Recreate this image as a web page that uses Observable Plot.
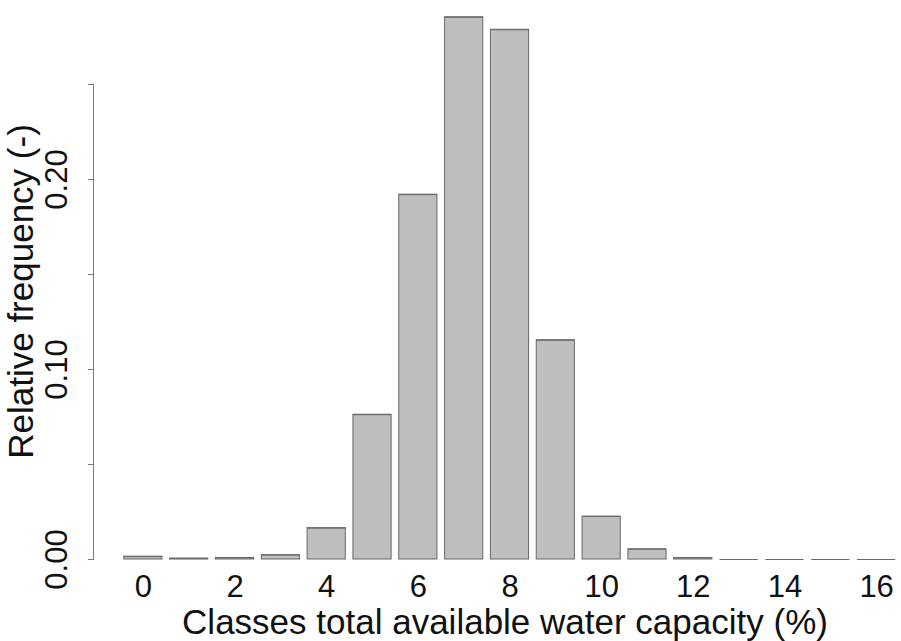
<!DOCTYPE html>
<html>
<head>
<meta charset="utf-8">
<script src="https://cdn.jsdelivr.net/npm/d3@7"></script>
<script src="https://cdn.jsdelivr.net/npm/@observablehq/plot@0.6"></script>
<style>
  html, body { margin: 0; padding: 0; background: #fff; }
  svg { display: block; }
</style>
</head>
<body>
<script>
// Classes of total available water capacity (%)
const classes = [0, 1, 2, 3, 4, 5, 6, 7, 8, 9, 10, 11, 12, 13, 14, 15, 16];
// Relative frequency (-) per class
const frequency = [0.0015, 0.0005, 0.0008, 0.0023, 0.0165, 0.0762, 0.1920, 0.2854, 0.2788, 0.1154, 0.0226, 0.0054, 0.0008, 0, 0, 0, 0];
// Axis ticks and labels
const xTickLabels = [0, 2, 4, 6, 8, 10, 12, 14, 16];
const yTicks = [0, 0.05, 0.10, 0.15, 0.20, 0.25];
const yTickLabels = [0, 0.10, 0.20];
const xTitle = "Classes total available water capacity (%)";
const yTitle = "Relative frequency (-)";

const data = classes.map((c, i) => ({cls: c, freq: frequency[i]}));

const chart = Plot.plot({
  width: 901,
  height: 641,
  marginLeft: 93,
  marginRight: 0,
  marginTop: 84,
  marginBottom: 82,
  style: {fontFamily: "'Liberation Sans', Arial, sans-serif", color: "#111", background: "#fff"},
  x: {type: "band", domain: classes, range: [93, 926], paddingInner: 0.1667, paddingOuter: 0.672, align: 0.5, round: false},
  y: {type: "linear", domain: [0, 0.25]},
  marks: [
    Plot.barY(data, {x: "cls", y: "freq", fill: "#bebebe", stroke: "#686868", strokeWidth: 1}),
    Plot.tickY(data, {x: "cls", y: "freq", stroke: "#686868", strokeWidth: 1}),
    Plot.frame({anchor: "left", stroke: "#7a7a7a"}),
    Plot.axisY({ticks: yTicks, tickSize: 5, tickFormat: () => "", label: null, stroke: "#7a7a7a"}),
    Plot.text(yTickLabels, {y: d => d, text: d => d.toFixed(2), frameAnchor: "left", rotate: -90, dx: -36, fontSize: 31, textAnchor: "middle", lineAnchor: "middle", fill: "#111"}),
    Plot.axisX({ticks: xTickLabels, tickSize: 0, tickPadding: 15, fontSize: 31, label: null, fill: "#111"}),
    Plot.text([yTitle], {text: d => d, frameAnchor: "left", rotate: -90, dx: -72, dy: -30.5, fontSize: 35, textAnchor: "middle", lineAnchor: "middle", fill: "#111"}),
    Plot.text([xTitle], {text: d => d, frameAnchor: "bottom", dx: 7.5, dy: 63, fontSize: 35, textAnchor: "middle", lineAnchor: "middle", fill: "#111"})
  ]
});
document.body.appendChild(chart);
</script>
</body>
</html>
